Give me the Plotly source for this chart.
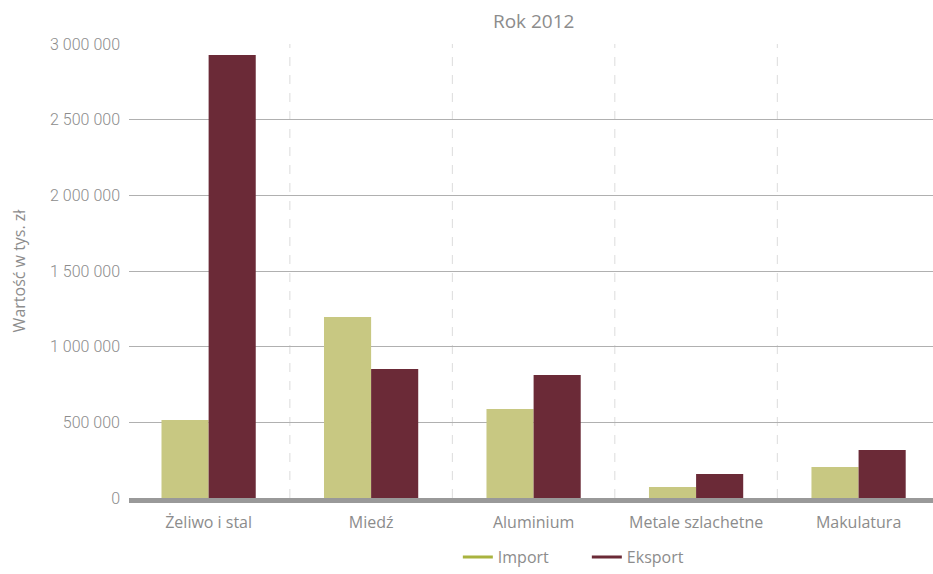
import plotly.graph_objects as go

# Trade in scrap and secondary raw materials, 2012 (thousand PLN)
categories = ["Żeliwo i stal", "Miedź", "Aluminium", "Metale szlachetne", "Makulatura"]
import_values = [515000, 1196000, 588000, 73000, 205000]
export_values = [2927000, 852000, 813000, 159000, 317000]
y_ticks = [0, 500000, 1000000, 1500000, 2000000, 2500000, 3000000]

IMPORT_BAR = "#c8c882"
IMPORT_KEY = "#a9b33f"
EXPORT_COLOR = "#6b2a37"
TEXT = "#8c8c8c"

fig = go.Figure()
fig.add_trace(go.Bar(x=categories, y=import_values, name="Import",
                     marker=dict(color=IMPORT_BAR, line_width=0), showlegend=False))
fig.add_trace(go.Bar(x=categories, y=export_values, name="Eksport",
                     marker=dict(color=EXPORT_COLOR, line_width=0), showlegend=False))

# legend keys drawn as short lines
fig.add_trace(go.Scatter(x=[None], y=[None], mode="lines", name="Import",
                         line=dict(color=IMPORT_KEY, width=3)))
fig.add_trace(go.Scatter(x=[None], y=[None], mode="lines", name="Eksport",
                         line=dict(color=EXPORT_COLOR, width=3)))

# dashed separators between categories
for i in range(len(categories) - 1):
    fig.add_shape(type="line", xref="x", yref="y", x0=i + 0.5, x1=i + 0.5,
                  y0=0, y1=y_ticks[-1], layer="below",
                  line=dict(color="#dcdcdc", width=1, dash="dash"))

fig.update_layout(
    width=933, height=574,
    margin=dict(l=129, r=0, t=44, b=76, autoexpand=False),
    paper_bgcolor="white", plot_bgcolor="white",
    barmode="group", bargap=0.42, bargroupgap=0,
    separators=", ",
    font=dict(family="Open Sans, sans-serif", color=TEXT, size=15),
    title=dict(text="Rok 2012", x=0.572, xanchor="center", y=0.963, yanchor="middle",
               font=dict(size=19, color=TEXT, family="Open Sans, sans-serif")),
    legend=dict(orientation="h", x=0.409, xanchor="left",
                y=-0.008, yref="container", yanchor="bottom",
                font=dict(size=16, color=TEXT), entrywidth=84, entrywidthmode="pixels",
                traceorder="normal"),
    xaxis=dict(range=[-0.49, 4.458], showgrid=False, showline=True, linecolor="#999999",
               linewidth=5, ticks="", ticklabelstandoff=6,
               tickfont=dict(size=16, color=TEXT, family="Open Sans, sans-serif")),
    yaxis=dict(range=[0, 3000000], tickvals=y_ticks, tickformat=",d",
               showgrid=True, gridcolor="#b0b0b0", gridwidth=1, zeroline=False,
               ticks="", ticklabelstandoff=8,
               tickfont=dict(size=16, color=TEXT, family="Roboto, sans-serif", weight=300),
               title=dict(text="Wartość w tys. zł", standoff=20,
                          font=dict(size=16, color=TEXT, family="Open Sans, sans-serif"))),
)

fig.write_html("out.html")
